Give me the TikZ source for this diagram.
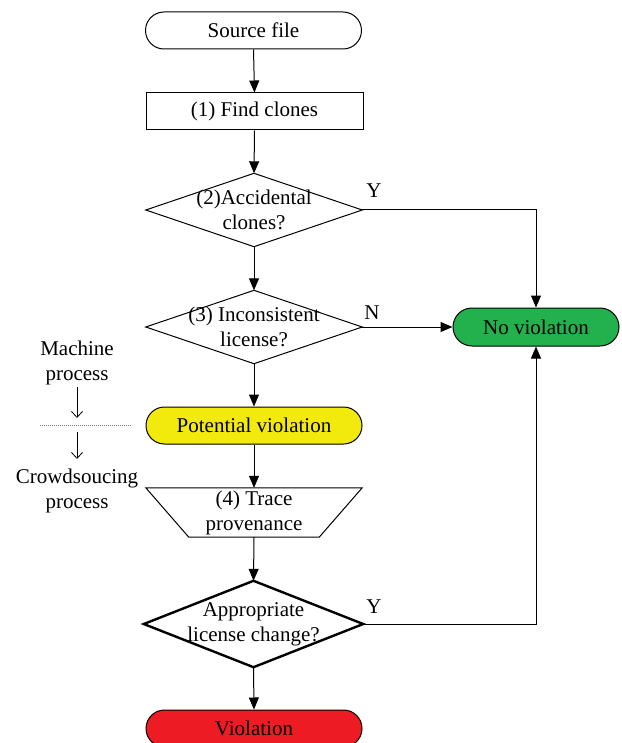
\documentclass[tikz,border=0pt]{standalone}
\usepackage{fontspec}
\setmainfont{Liberation Serif}
\usetikzlibrary{arrows.meta}
\definecolor{pvyellow}{RGB}{242,234,12}
\definecolor{nvgreen}{RGB}{34,177,76}
\definecolor{vred}{RGB}{237,28,36}
\begin{document}
\begin{tikzpicture}[x=1pt,y=-1pt,
  font=\fontsize{21}{25}\selectfont,
  term/.style={draw, rounded corners=18.5pt, minimum width=216pt, minimum height=37pt, inner sep=0pt, line width=1pt},
  proc/.style={draw, minimum width=217pt, minimum height=37pt, inner sep=0pt, line width=1pt},
  dbox/.style={minimum width=216pt, minimum height=73pt, inner sep=0pt, align=center},
  arr/.style={-{Triangle[length=12pt,width=10pt]}, line width=1pt},
  note/.style={align=center, inner sep=0pt},
  thinarr/.style={-{Straight Barb[length=6pt,width=11pt]}, line width=0.8pt},
  yn/.style={inner sep=0pt}
]
\clip (0,0) rectangle (621,743);
\fill[white] (0,0) rectangle (621,743);

% main column
\node[term] (src) at (253.5,30.5) {Source file};
\node[proc] (fc) at (254.5,111.5) {(1) Find clones};
\node[dbox] (d2) at (254,210) {(2)Accidental\\clones?};
\draw[line width=1pt] (d2.west) -- (d2.north) -- (d2.east) -- (d2.south) -- cycle;
\node[dbox] (d3) at (254,327) {(3) Inconsistent\\license?};
\draw[line width=1pt] (d3.west) -- (d3.north) -- (d3.east) -- (d3.south) -- cycle;
\node[term, fill=pvyellow] (pv) at (254,425.5) {Potential violation};
\node[dbox, minimum height=49pt] (t4) at (254,512.5) {(4) Trace\\provenance};
\draw[line width=1pt] (t4.north west) -- (t4.north east) -- ([xshift=-43pt]t4.south east) -- ([xshift=43pt]t4.south west) -- cycle;
\node[dbox, minimum width=219pt, minimum height=86pt] (d4) at (253.5,624) {Appropriate\\license change?};
\draw[line width=2.4pt, line join=miter] (d4.west) -- (d4.north) -- (d4.east) -- (d4.south) -- cycle;
\node[term, fill=vred] (vi) at (254,728.5) {Violation};
\node[term, fill=nvgreen, minimum width=166pt, minimum height=38pt, rounded corners=19pt] (nv) at (536,327) {No violation};

% connectors
\draw[arr] (src.south) -- (fc.north);
\draw[arr] (fc.south) -- (d2.north);
\draw[arr] (d2.south) -- (d3.north);
\draw[arr] (d3.south) -- (pv.north);
\draw[arr] (pv.south) -- (t4.north);
\draw[arr] (t4.south) -- (d4.north);
\draw[arr] (d4.south) -- (vi.north);
\draw[arr] (d2.east) -| (nv.north);
\draw[arr] (d3.east) -- (nv.west);
\draw[arr] (d4.east) -| (nv.south);

% branch labels
\node[yn] (y1) at (374,191) {Y};
\node[yn] (n1) at (372,313) {N};
\node[yn] (y2) at (374,607) {Y};

% side annotation
\node[note] (mp) at (77,362.5) {Machine\\process};
\node[note] (cp) at (77,490.5) {Crowdsoucing\\process};
\coordinate (a1s) at (77,387);
\coordinate (a1e) at (77,418);
\coordinate (a2s) at (77,432);
\coordinate (a2e) at (77,459);
\draw[thinarr] (a1s) -- (a1e);
\draw[thinarr] (a2s) -- (a2e);
\coordinate (dl) at (40,425);
\coordinate (dr) at (132,425);
\draw[gray, line width=0.7pt, dash pattern=on 1pt off 1pt] (dl) -- (dr);
\end{tikzpicture}
\end{document}
